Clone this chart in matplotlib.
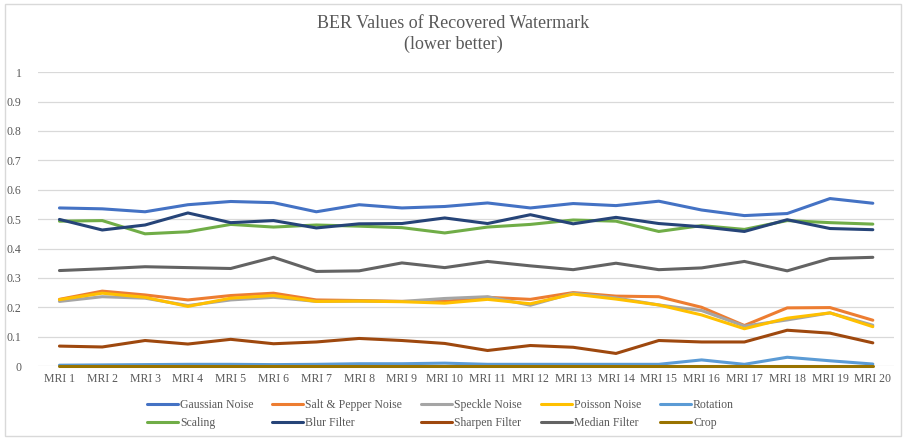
import matplotlib.pyplot as plt
from matplotlib.patches import Rectangle

plt.rcParams['font.family'] = ['Liberation Serif', 'DejaVu Serif']

mri = [f'MRI {i}' for i in range(1, 21)]

gaussian = [0.538, 0.535, 0.525, 0.549, 0.560, 0.556, 0.525, 0.549, 0.538, 0.543,
            0.555, 0.538, 0.553, 0.546, 0.561, 0.531, 0.512, 0.519, 0.570, 0.554]
salt_pepper = [0.227, 0.255, 0.242, 0.225, 0.240, 0.248, 0.225, 0.223, 0.220, 0.220,
               0.234, 0.227, 0.250, 0.238, 0.236, 0.200, 0.138, 0.198, 0.199, 0.156]
speckle = [0.220, 0.236, 0.231, 0.206, 0.225, 0.234, 0.220, 0.221, 0.220, 0.230,
           0.236, 0.207, 0.248, 0.232, 0.208, 0.189, 0.136, 0.157, 0.181, 0.139]
poisson = [0.226, 0.248, 0.234, 0.203, 0.231, 0.240, 0.220, 0.221, 0.219, 0.214,
           0.227, 0.212, 0.245, 0.228, 0.208, 0.174, 0.127, 0.163, 0.181, 0.134]
rotation = [0.003, 0.004, 0.005, 0.006, 0.006, 0.005, 0.006, 0.008, 0.008, 0.010,
            0.006, 0.006, 0.006, 0.006, 0.006, 0.021, 0.006, 0.030, 0.018, 0.007]
scaling = [0.493, 0.495, 0.450, 0.457, 0.482, 0.473, 0.480, 0.476, 0.471, 0.453,
           0.473, 0.482, 0.497, 0.493, 0.458, 0.478, 0.465, 0.495, 0.488, 0.483]
blur = [0.499, 0.463, 0.480, 0.521, 0.488, 0.495, 0.470, 0.484, 0.485, 0.504,
        0.485, 0.515, 0.484, 0.506, 0.485, 0.474, 0.458, 0.498, 0.468, 0.464]
sharpen = [0.068, 0.065, 0.087, 0.075, 0.091, 0.076, 0.082, 0.094, 0.087, 0.077,
           0.053, 0.070, 0.064, 0.043, 0.087, 0.082, 0.082, 0.122, 0.112, 0.079]
median = [0.325, 0.331, 0.338, 0.335, 0.332, 0.370, 0.322, 0.324, 0.351, 0.335,
          0.356, 0.341, 0.328, 0.350, 0.328, 0.334, 0.356, 0.324, 0.366, 0.370]
crop = [0.0] * 20

series = [
    ('Gaussian Noise', gaussian, '#4472C4'),
    ('Salt & Pepper Noise', salt_pepper, '#ED7D31'),
    ('Speckle Noise', speckle, '#A5A5A5'),
    ('Poisson Noise', poisson, '#FFC000'),
    ('Rotation', rotation, '#5B9BD5'),
    ('Scaling', scaling, '#70AD47'),
    ('Blur Filter', blur, '#264478'),
    ('Sharpen Filter', sharpen, '#9E480E'),
    ('Median Filter', median, '#636363'),
    ('Crop', crop, '#997300'),
]

fig = plt.figure(figsize=(9.06, 4.40), dpi=100)
ax = fig.add_axes([0.042, 0.168, 0.945, 0.668])

x = range(len(mri))
lines = []
for name, vals, color in series:
    ln, = ax.plot(x, vals, color=color, lw=2.2, label=name,
                  solid_capstyle='round', clip_on=False)
    lines.append(ln)

ax.set_xlim(-0.5, len(mri) - 0.5)
ax.set_ylim(0, 1)
ax.set_yticks([i / 10 for i in range(11)])
ax.set_yticklabels(['0', '0.1', '0.2', '0.3', '0.4', '0.5', '0.6', '0.7', '0.8', '0.9', '1'])
ax.set_xticks(list(x))
ax.set_xticklabels(mri)
ax.tick_params(axis='both', length=0, labelsize=8.5, colors='#595959')
ax.tick_params(axis='y', pad=12)
ax.tick_params(axis='x', pad=5)
ax.grid(axis='y', color='#D9D9D9', lw=0.9)
ax.set_axisbelow(True)
for s in ax.spines.values():
    s.set_visible(False)

fig.text(0.5, 0.965, 'BER Values of Recovered Watermark\n(lower better)',
         ha='center', va='top', fontsize=13, color='#595959', linespacing=1.25)

# legend filled row by row like excel
order = [0, 5, 1, 6, 2, 7, 3, 8, 4, 9]
ax.legend([lines[i] for i in order], [series[i][0] for i in order],
          loc='upper center', bbox_to_anchor=(0.47, -0.075), ncol=5, frameon=False,
          fontsize=8.5, handlelength=2.6, columnspacing=1.6, handletextpad=0.2,
          labelspacing=0.5, labelcolor='#595959')

fig.patches.append(Rectangle((0.006, 0.01), 0.988, 0.98, transform=fig.transFigure,
                             fill=False, edgecolor='#D9D9D9', lw=1))

fig.savefig('out.png', dpi=100)
